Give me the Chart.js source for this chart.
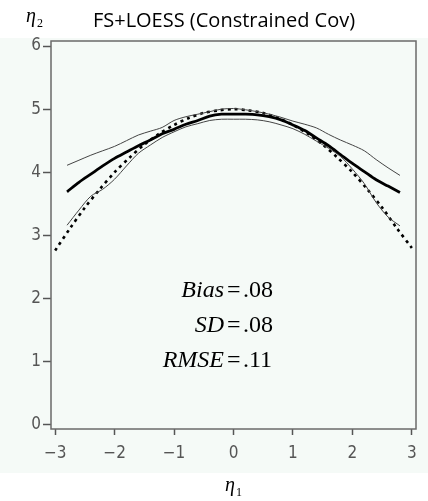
<!DOCTYPE html>
<html>
<head>
<meta charset="utf-8">
<script src="https://cdn.jsdelivr.net/npm/chart.js@4/dist/chart.umd.min.js"></script>
<style>
  html, body { margin: 0; padding: 0; background: #fff; }
  #wrap { width: 428px; height: 501px; position: relative; }
</style>
</head>
<body>
<div id="wrap"><canvas id="chart" width="428" height="501"></canvas></div>
<script>
// x grid for the estimated curves
let est_x = [-2.8, -2.6, -2.4, -2.2, -2.0, -1.8, -1.6, -1.4, -1.2, -1.0, -0.8, -0.6, -0.4, -0.2, 0,
             0.2, 0.4, 0.6, 0.8, 1.0, 1.2, 1.4, 1.6, 1.8, 2.0, 2.2, 2.4, 2.6, 2.8];

// mean LOESS estimate (thick line)
let est_mean = [3.69, 3.84, 3.97, 4.10, 4.22, 4.32, 4.42, 4.51, 4.61, 4.68, 4.76, 4.82, 4.89, 4.92, 4.92,
                4.92, 4.91, 4.88, 4.83, 4.75, 4.66, 4.54, 4.42, 4.28, 4.14, 4.01, 3.88, 3.78, 3.68];

// upper and lower bands (thin lines)
let est_upper = [4.11, 4.19, 4.27, 4.34, 4.41, 4.50, 4.59, 4.65, 4.71, 4.82, 4.88, 4.92, 4.96, 5.00, 5.01,
                 4.99, 4.96, 4.92, 4.87, 4.81, 4.76, 4.70, 4.60, 4.51, 4.43, 4.34, 4.20, 4.07, 3.95];
let est_lower = [3.16, 3.40, 3.62, 3.73, 3.89, 4.10, 4.30, 4.43, 4.55, 4.64, 4.72, 4.77, 4.82, 4.84, 4.84,
                 4.84, 4.83, 4.80, 4.75, 4.69, 4.60, 4.49, 4.38, 4.25, 4.05, 3.82, 3.52, 3.29, 3.15];

// true curve (dotted)
let true_x = [-3, -2.75, -2.5, -2.25, -2, -1.75, -1.5, -1.25, -1, -0.75, -0.5, -0.25, 0,
              0.25, 0.5, 0.75, 1, 1.25, 1.5, 1.75, 2, 2.25, 2.5, 2.75, 3];
let true_y = [2.76, 3.11, 3.44, 3.73, 4.00, 4.23, 4.44, 4.61, 4.75, 4.86, 4.94, 4.98, 5.00,
              4.98, 4.94, 4.86, 4.75, 4.61, 4.44, 4.23, 4.00, 3.73, 3.44, 3.11, 2.80];

let x_ticks = [-3, -2, -1, 0, 1, 2, 3];
let y_ticks = [0, 1, 2, 3, 4, 5, 6];
let stats = [["Bias", ".08"], ["SD", ".08"], ["RMSE", ".11"]];

function pts(xs, ys) {
    return xs.map((x, i) => ({x: x, y: ys[i]}));
}

const tickFont = {family: '"Liberation Sans Narrow", "DejaVu Sans Condensed", sans-serif', size: 17};

const decor = {
    id: 'decor',
    beforeDraw(chart) {
        const c = chart.ctx;
        c.save();
        c.fillStyle = '#f5faf7';
        c.fillRect(0, 38, 428, 435);
        c.restore();
    },
    afterDraw(chart) {
        const c = chart.ctx;
        const a = chart.chartArea;
        c.save();
        // frame
        c.strokeStyle = '#6a6a6a';
        c.lineWidth = 1.5;
        c.strokeRect(a.left, a.top, a.right - a.left, a.bottom - a.top);
        // title
        c.fillStyle = '#000';
        c.textBaseline = 'alphabetic';
        c.textAlign = 'center';
        c.font = '20px "Open Sans", sans-serif';
        c.fillText('FS+LOESS (Constrained Cov)', 224, 27);
        // axis names
        c.font = 'italic 20px "Liberation Serif", serif';
        c.textAlign = 'left';
        c.fillText('η', 26, 22);
        c.fillText('η', 225, 491);
        c.font = '12px "Liberation Serif", serif';
        c.fillText('2', 37, 27);
        c.fillText('1', 236, 496);
        // stats text, lined up on the "=" sign
        stats.forEach((s, i) => {
            const y = 297 + i * 35;
            c.textAlign = 'right';
            c.font = 'italic 24px "Liberation Serif", serif';
            c.fillText(s[0], 224, y);
            c.textAlign = 'left';
            c.font = '24px "Liberation Serif", serif';
            c.fillText('=', 227, y);
            c.fillText(s[1], 243, y);
        });
        c.restore();
    }
};

new Chart(document.getElementById('chart'), {
    type: 'scatter',
    data: {
        datasets: [
            {
                data: pts(est_x, est_upper),
                showLine: true, borderColor: '#444', borderWidth: 1,
                pointRadius: 0, tension: 0.3
            },
            {
                data: pts(est_x, est_lower),
                showLine: true, borderColor: '#444', borderWidth: 1,
                pointRadius: 0, tension: 0.3
            },
            {
                data: pts(est_x, est_mean),
                showLine: true, borderColor: '#000', borderWidth: 2.8,
                pointRadius: 0, tension: 0.3
            },
            {
                data: pts(true_x, true_y),
                showLine: true, borderColor: '#000', borderWidth: 2.6,
                borderDash: [3, 4], pointRadius: 0, tension: 0.3
            }
        ]
    },
    options: {
        responsive: false,
        animation: false,
        layout: {padding: {left: 0, top: 41, right: 12, bottom: 42}},
        plugins: {legend: {display: false}, tooltip: {enabled: false}},
        scales: {
            x: {
                type: 'linear', min: -3.07, max: 3.07,
                afterFit(scale) { scale.height = 30; },
                afterBuildTicks(scale) { scale.ticks = x_ticks.map(v => ({value: v})); },
                grid: {display: true, drawOnChartArea: false, drawTicks: true,
                       tickLength: 6, tickColor: '#555', tickWidth: 1.5},
                border: {display: false},
                ticks: {
                    color: '#555', padding: 8, font: tickFont,
                    callback: v => (v < 0 ? '\u2212' + Math.abs(v) : String(v))
                }
            },
            y: {
                type: 'linear', min: -0.07, max: 6.08,
                afterFit(scale) { scale.width = 51; },
                afterBuildTicks(scale) { scale.ticks = y_ticks.map(v => ({value: v})); },
                grid: {display: true, drawOnChartArea: false, drawTicks: true,
                       tickLength: 8, tickColor: '#555', tickWidth: 1.5},
                border: {display: false},
                ticks: {color: '#555', padding: 2, font: tickFont}
            }
        }
    },
    plugins: [decor]
});
</script>
</body>
</html>
